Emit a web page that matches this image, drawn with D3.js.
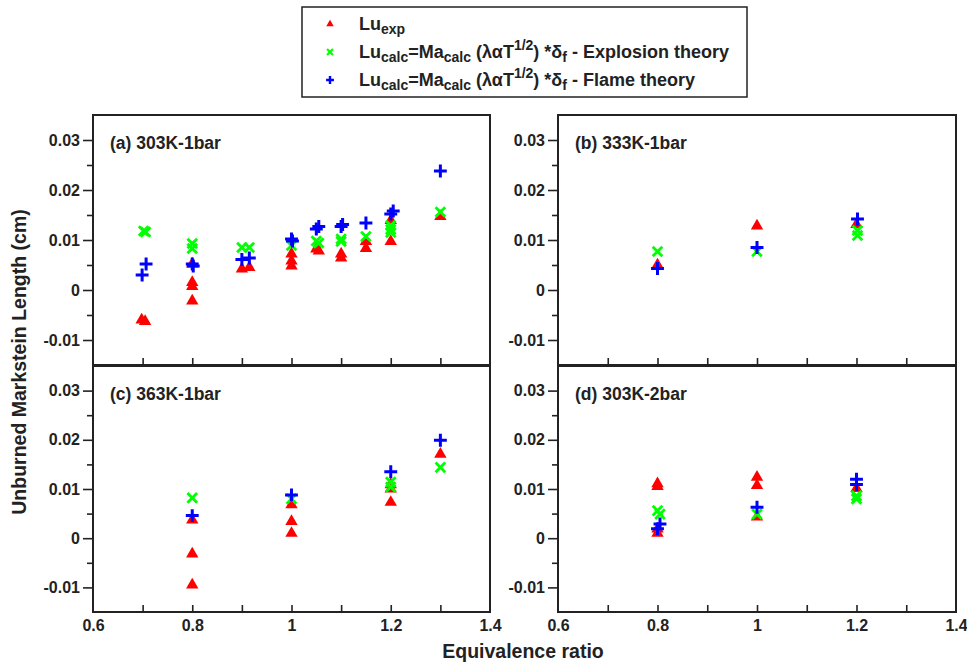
<!DOCTYPE html>
<html lang="en">
<head>
    <meta charset="UTF-8">
    <title>Unburned Markstein Length</title>
    <script src="https://d3js.org/d3.v7.min.js"></script>
    <style>
        body { margin: 0; background: #fff; }
        svg { font-family: "Liberation Sans", Arial, sans-serif; font-weight: bold; }
        .tick text { font-size: 16px; font-weight: bold; fill: #222; }
        .domain { display: none; }
        .tick line { stroke: #222; stroke-width: 1.6; }
    </style>
</head>
<body>
<script>
    // axis ticks
    const xTicks = [0.6, 0.8, 1.0, 1.2, 1.4];
    const xTickLabels = ["0.6", "0.8", "1", "1.2", "1.4"];
    const xMinor = [0.7, 0.8, 0.9, 1.0, 1.1, 1.2, 1.3];
    const yTicks = [-0.01, 0, 0.01, 0.02, 0.03];
    const yTickLabels = ["-0.01", "0", "0.01", "0.02", "0.03"];
    const yMinor = [-0.005, 0.005, 0.015, 0.025];

    const seriesNames = ["exp", "explosion", "flame"];

    // panel (a) 303K-1bar : [phi, Lu]
    const aExp = [[0.698, -0.0060], [0.705, -0.0063], [0.8, 0.0052], [0.8, 0.0015], [0.8, 0.0007], [0.8, -0.0022],
        [0.9, 0.0042], [0.915, 0.0045], [1.0, 0.0072], [1.0, 0.0058], [1.0, 0.0048], [1.05, 0.0082], [1.055, 0.0078],
        [1.1, 0.0072], [1.1, 0.0064], [1.15, 0.0097], [1.15, 0.0083], [1.2, 0.0139], [1.2, 0.0097], [1.3, 0.0147]];
    const aExpl = [[0.702, 0.0118], [0.706, 0.0116], [0.8, 0.0093], [0.8, 0.0083], [0.9, 0.0085], [0.915, 0.0085],
        [1.0, 0.0089], [1.05, 0.0098], [1.055, 0.0094], [1.1, 0.0102], [1.1, 0.0097], [1.15, 0.0107],
        [1.2, 0.0129], [1.2, 0.0121], [1.2, 0.0115], [1.3, 0.0156]];
    const aFlame = [[0.707, 0.0052], [0.699, 0.0030], [0.8, 0.0052], [0.802, 0.0048], [0.9, 0.0061], [0.915, 0.0064],
        [1.0, 0.0102], [1.002, 0.0098], [1.05, 0.0122], [1.055, 0.0127], [1.1, 0.0127], [1.103, 0.0131],
        [1.15, 0.0134], [1.2, 0.0152], [1.205, 0.0158], [1.3, 0.0238]];

    // panel (b) 333K-1bar
    const bExp = [[0.8, 0.0050], [1.0, 0.0128], [1.2, 0.0131]];
    const bExpl = [[0.8, 0.0077], [1.0, 0.0077], [1.202, 0.0119], [1.202, 0.0109]];
    const bFlame = [[0.8, 0.0043], [1.0, 0.0085], [1.202, 0.0142]];

    // panel (c) 363K-1bar
    const cExp = [[0.8, 0.0037], [0.8, -0.0032], [0.8, -0.0095], [1.0, 0.0068], [1.0, 0.0034], [1.0, 0.0010],
        [1.2, 0.0109], [1.2, 0.0100], [1.2, 0.0073], [1.3, 0.0171]];
    const cExpl = [[0.8, 0.0082], [1.0, 0.0080], [1.2, 0.0114], [1.2, 0.0104], [1.3, 0.0144]];
    const cFlame = [[0.8, 0.0046], [1.0, 0.0088], [1.2, 0.0135], [1.3, 0.0199]];

    // panel (d) 303K-2bar
    const dExp = [[0.8, 0.0111], [0.8, 0.0105], [0.8, 0.0019], [0.8, 0.0010], [1.0, 0.0124], [1.0, 0.0107],
        [1.0, 0.0043], [1.2, 0.0101]];
    const dExpl = [[0.8, 0.0056], [0.805, 0.0049], [1.0, 0.0049], [1.2, 0.0086], [1.2, 0.0080]];
    const dFlame = [[0.8, 0.0019], [0.805, 0.0029], [1.0, 0.0063], [1.2, 0.0120], [1.2, 0.0109]];

    const colors = { exp: "#ff0000", explosion: "#00ff00", flame: "#0000ff" };

    const panels = [
        { title: "(a) 303K-1bar", x0: 93, x1: 490, y0: 115, y1: 365, xLabels: false, data: [aExp, aExpl, aFlame] },
        { title: "(b) 333K-1bar", x0: 558, x1: 956, y0: 115, y1: 365, xLabels: false, data: [bExp, bExpl, bFlame] },
        { title: "(c) 363K-1bar", x0: 93, x1: 490, y0: 366, y1: 612, xLabels: true, data: [cExp, cExpl, cFlame] },
        { title: "(d) 303K-2bar", x0: 558, x1: 956, y0: 366, y1: 612, xLabels: true, data: [dExp, dExpl, dFlame] }
    ];

    const svg = d3.select("body").append("svg")
        .attr("width", 967)
        .attr("height", 666);

    function drawMarker(g, type, size) {
        const c = colors[type];
        if (type === "exp") {
            g.append("path")
                .attr("d", d3.symbol().type(d3.symbolTriangle).size(size * size * 0.5)())
                .attr("fill", c);
        } else if (type === "explosion") {
            const h = size * 0.42;
            g.append("path")
                .attr("d", `M${-h},${-h}L${h},${h}M${-h},${h}L${h},${-h}`)
                .attr("stroke", c).attr("stroke-width", size > 8 ? 2.8 : 2.2).attr("fill", "none");
        } else {
            const h = size * 0.56;
            g.append("path")
                .attr("d", `M${-h},0L${h},0M0,${-h}L0,${h}`)
                .attr("stroke", c).attr("stroke-width", size > 8 ? 3 : 2.4).attr("fill", "none");
        }
    }

    panels.forEach(p => {
        const x = d3.scaleLinear().domain([0.6, 1.4]).range([p.x0, p.x1]);
        const y = d3.scaleLinear().domain([-0.015, 0.035]).range([p.y1, p.y0]);
        const g = svg.append("g");

        // y axis major + minor, outward
        g.append("g")
            .attr("transform", `translate(${p.x0},0)`)
            .call(d3.axisLeft(y).tickValues(yTicks).tickSize(10).tickPadding(3)
                .tickFormat((d, i) => yTickLabels[i]));
        g.append("g")
            .attr("transform", `translate(${p.x0},0)`)
            .call(d3.axisLeft(y).tickValues(yMinor).tickSize(6).tickFormat(""));

        // x axis, ticks inward
        g.append("g")
            .attr("transform", `translate(0,${p.y1})`)
            .call(d3.axisBottom(x).tickValues(xMinor).tickSize(-7).tickFormat(""));
        if (p.xLabels) {
            g.append("g")
                .attr("transform", `translate(0,${p.y1})`)
                .call(d3.axisBottom(x).tickValues(xTicks).tickSize(0).tickPadding(8)
                    .tickFormat((d, i) => xTickLabels[i]));
        }

        // points: red, then green, then blue on top
        p.data.forEach((arr, si) => {
            const type = seriesNames[si];
            arr.forEach(d => {
                const m = g.append("g").attr("transform", `translate(${x(d[0])},${y(d[1])})`);
                drawMarker(m, type, 11.5);
            });
        });

        // frame
        g.append("rect")
            .attr("x", p.x0).attr("y", p.y0)
            .attr("width", p.x1 - p.x0).attr("height", p.y1 - p.y0)
            .attr("fill", "none").attr("stroke", "#222").attr("stroke-width", 2);

        g.append("text")
            .attr("x", p.x0 + 17).attr("y", p.y0 + 34)
            .attr("font-size", 17.5).attr("fill", "#222")
            .text(p.title);
    });

    // axis titles
    svg.append("text")
        .attr("x", 523).attr("y", 658)
        .attr("text-anchor", "middle").attr("font-size", 19.5).attr("fill", "#222")
        .text("Equivalence ratio");
    svg.append("text")
        .attr("transform", "translate(26,362) rotate(-90)")
        .attr("text-anchor", "middle").attr("font-size", 19.5).attr("fill", "#222")
        .text("Unburned Markstein Length (cm)");

    // legend
    const leg = svg.append("g");
    leg.append("rect")
        .attr("x", 302).attr("y", 7).attr("width", 445).attr("height", 90)
        .attr("fill", "#fff").attr("stroke", "#222").attr("stroke-width", 1.5);

    const legRows = [
        { type: "exp", y: 30, parts: [["Lu", 0], ["exp", 1]] },
        { type: "explosion", y: 58, parts: [["Lu", 0], ["calc", 1], ["=Ma", 0], ["calc", 1], [" (λαT", 0], ["1/2", 2], [") *δ", 0], ["f", 1], [" - Explosion theory", 0]] },
        { type: "flame", y: 86, parts: [["Lu", 0], ["calc", 1], ["=Ma", 0], ["calc", 1], [" (λαT", 0], ["1/2", 2], [") *δ", 0], ["f", 1], [" - Flame theory", 0]] }
    ];
    legRows.forEach(r => {
        const m = leg.append("g").attr("transform", `translate(330,${r.y - 6})`);
        drawMarker(m, r.type, 7);
        const t = leg.append("text")
            .attr("x", 359).attr("y", r.y)
            .attr("font-size", 18).attr("fill", "#222");
        let shift = 0;
        r.parts.forEach(([s, k]) => {
            const target = k === 1 ? 4 : (k === 2 ? -8 : 0);
            t.append("tspan")
                .attr("dy", target - shift)
                .attr("font-size", k === 0 ? 18 : 14)
                .text(s);
            shift = target;
        });
    });
</script>
</body>
</html>
